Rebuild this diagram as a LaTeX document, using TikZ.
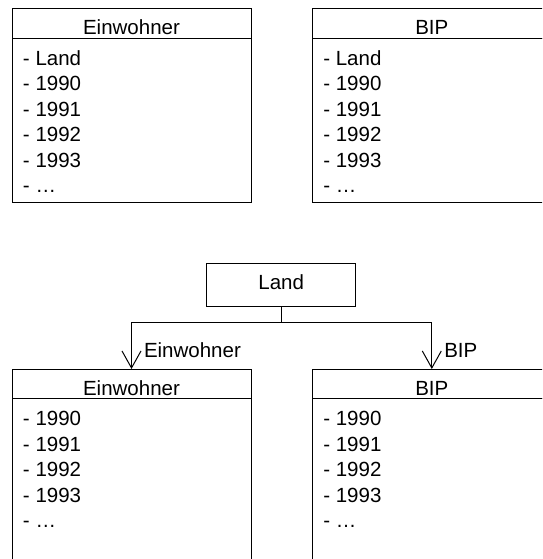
\documentclass[tikz,border=0pt]{standalone}
\usepackage{fontspec}
\setmainfont{Liberation Sans}
\usetikzlibrary{positioning,arrows.meta}

\tikzset{
  kopf/.style={draw, minimum width=239pt, inner sep=0pt, outer sep=0pt, text height=26.3pt, text depth=3.3pt},
  rumpf/.style={draw, minimum width=239pt, minimum height=164pt, inner sep=0pt, outer sep=0pt},
  eintrag/.style={anchor=base west, inner sep=0pt},
  pfeil/.style={-{Straight Barb[length=17pt,width=19pt]}},
  beschr/.style={anchor=base west, inner sep=0pt, xshift=12pt},
}

\begin{document}
\begin{tikzpicture}[x=1pt, y=-1pt, line width=1pt, font=\fontsize{20.5}{25.5}\selectfont]
  \useasboundingbox (0,0) rectangle (542,559);
  \clip (0,0) rectangle (542,559);

  % oben: Land als Spalte in jeder Tabelle
  \node[kopf] (ew1) at (131.5,23.5) {Einwohner};
  \node[rumpf, below=0pt of ew1] (ew1r) {};
  \node[kopf] (bip1) at (431.8,23.5) {BIP};
  \node[rumpf, below=0pt of bip1] (bip1r) {};

  \foreach \t [count=\i from 0] in {- Land, - 1990, - 1991, - 1992, - 1993, - \ldots}{
    \node[eintrag] (ew1-\i) at ([xshift=10.5pt, yshift={-(27+25.5*\i)*1pt}]ew1r.north west) {\t};
    \node[eintrag] (bip1-\i) at ([xshift=10.5pt, yshift={-(27+25.5*\i)*1pt}]bip1r.north west) {\t};
  }

  % unten: Land als Schluessel
  \node[draw, minimum width=149pt, inner sep=0pt, outer sep=0pt, text height=26pt, text depth=17.4pt] (land) at (281.2,285) {Land};

  \node[kopf] (ew2) at (131.5,383.8) {Einwohner};
  \node[rumpf, below=0pt of ew2] (ew2r) {};
  \node[kopf] (bip2) at (431.8,383.8) {BIP};
  \node[rumpf, below=0pt of bip2] (bip2r) {};

  \foreach \t [count=\i from 0] in {- 1990, - 1991, - 1992, - 1993, - \ldots}{
    \node[eintrag] (ew2-\i) at ([xshift=10.5pt, yshift={-(27+25.5*\i)*1pt}]ew2r.north west) {\t};
    \node[eintrag] (bip2-\i) at ([xshift=10.5pt, yshift={-(27+25.5*\i)*1pt}]bip2r.north west) {\t};
  }

  \draw (land.south) -- ++(0,15.6) coordinate (knick);
  \draw[pfeil] (knick) -| (ew2.north) node[beschr, pos=0.878] (l-ew) {Einwohner};
  \draw[pfeil] (knick) -| (bip2.north) node[beschr, pos=0.878] (l-bip) {BIP};

\end{tikzpicture}
\end{document}
